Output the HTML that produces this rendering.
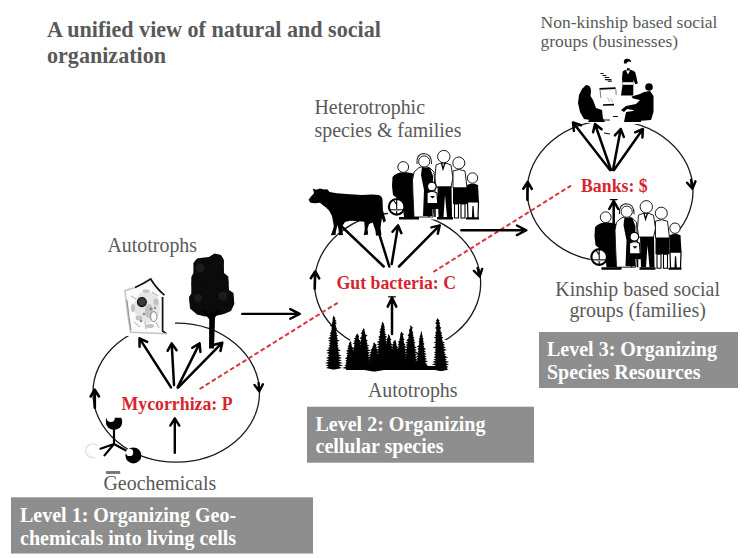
<!DOCTYPE html>
<html><head><meta charset="utf-8">
<style>
html,body{margin:0;padding:0;background:#fff;}
body{width:751px;height:558px;overflow:hidden;position:relative;}
svg{position:absolute;left:0;top:0;}
.t{font-family:"Liberation Serif",serif;fill:#595959;}
.b{font-weight:bold;}
.r{font-family:"Liberation Serif",serif;font-weight:bold;fill:#d6252c;font-size:17.8px;}
.w{font-family:"Liberation Serif",serif;font-weight:bold;fill:#fff;font-size:20px;}
.box{fill:#8e8e8e;}
.el{fill:none;stroke:#1a1a1a;stroke-width:1.3;}
.ar path{fill:none;stroke:#000;stroke-linecap:round;stroke-linejoin:round;}
.dash{stroke:#da3540;stroke-width:2;stroke-dasharray:4.6 2.6;fill:none;}
</style></head>
<body>
<svg width="751" height="558" viewBox="0 0 751 558">
<!-- title -->
<text class="t b" x="47" y="37" font-size="22.1">A unified view of natural and social</text>
<text class="t b" x="47" y="62.8" font-size="22.1">organization</text>

<!-- boxes -->
<rect class="box" x="11" y="497.3" width="302" height="56.2"/>
<rect class="box" x="307" y="406.7" width="227" height="56"/>
<rect class="box" x="539" y="332" width="199" height="56"/>
<text class="w" x="20" y="521.6">Level 1: Organizing Geo-</text>
<text class="w" x="20" y="544.8">chemicals into living cells</text>
<text class="w" x="315.5" y="431">Level 2: Organizing</text>
<text class="w" x="315.5" y="453.4">cellular species</text>
<text class="w" x="547" y="355.6">Level 3: Organizing</text>
<text class="w" x="547" y="379.3">Species Resources</text>

<!-- labels -->
<text class="t" x="540.5" y="28.1" font-size="17.5">Non-kinship based social</text>
<text class="t" x="540.5" y="47.1" font-size="17.5">groups (businesses)</text>
<text class="t" x="314.5" y="114" font-size="19.9">Heterotrophic</text>
<text class="t" x="314.5" y="137.4" font-size="19.9">species &amp; families</text>
<text class="t" x="107.5" y="252.2" font-size="19.9">Autotrophs</text>
<text class="t" x="368" y="396.6" font-size="19.9">Autotrophs</text>
<text class="t" x="103.5" y="489.5" font-size="19.9">Geochemicals</text>
<text class="t" x="637.6" y="296" font-size="19.9" text-anchor="middle">Kinship based social</text>
<text class="t" x="637.6" y="316.8" font-size="19.9" text-anchor="middle">groups (families)</text>

<!-- ellipses -->
<ellipse class="el" cx="176.2" cy="392.7" rx="83.3" ry="69.5"/>
<ellipse class="el" cx="397.6" cy="282.9" rx="83.1" ry="69.9"/>
<ellipse class="el" cx="610.1" cy="191" rx="82.9" ry="70.4"/>

<!-- dashed red -->
<line class="dash" x1="199.6" y1="389" x2="337.6" y2="302.8"/>
<line class="dash" x1="433.3" y1="272" x2="571" y2="185.6"/>

<path d="M350 340L452 340L452 369L350 369Z" fill="#fff"/>
<g fill="#000">
<path d="M333.7 315.5L334.4 316.9L335.5 318.4L334.7 319.3L336.5 320.9L335.0 321.8L336.9 323.3L335.2 324.3L336.3 325.8L335.5 326.8L337.2 328.3L335.7 329.3L336.4 330.8L336.0 331.8L337.1 333.3L336.2 334.2L338.2 335.7L336.4 336.7L337.8 338.2L336.6 339.2L339.7 340.7L336.9 341.7L338.3 343.2L337.1 344.2L338.6 345.7L337.3 346.6L338.9 348.2L337.5 349.1L341.0 350.6L337.7 351.6L339.8 353.1L337.9 354.1L341.6 355.6L338.1 356.6L342.2 358.1L338.2 359.0L341.8 360.6L338.4 361.5L342.8 363.0L338.6 364.0L343.1 365.5L338.8 366.5L341.9 368.0L334.9 369.6L332.5 369.6L326.0 368.0L328.6 366.5L325.8 365.5L328.8 364.0L325.0 363.0L329.0 361.5L326.1 360.6L329.2 359.0L325.8 358.1L329.3 356.6L327.7 355.6L329.5 354.1L326.3 353.1L329.7 351.6L326.1 350.6L329.9 349.1L327.9 348.2L330.1 346.6L328.6 345.7L330.3 344.2L328.9 343.2L330.5 341.7L328.1 340.7L330.8 339.2L327.9 338.2L331.0 336.7L329.5 335.7L331.2 334.2L329.7 333.3L331.4 331.8L331.1 330.8L331.7 329.3L331.6 328.3L331.9 326.8L329.9 325.8L332.2 324.3L332.0 323.3L332.4 321.8L332.6 320.9L332.7 319.3L332.7 318.4L333.0 316.9Z"/>
<path d="M350.5 341.0L351.3 342.3L351.2 343.8L351.7 344.7L351.7 346.2L352.1 347.1L353.6 348.6L352.5 349.6L354.4 351.0L352.8 352.0L354.1 353.4L353.2 354.4L355.1 355.9L353.5 356.8L355.6 358.3L353.8 359.2L355.2 360.7L354.1 361.6L355.6 363.1L354.4 364.0L358.0 365.5L354.7 366.4L358.3 367.9L351.7 369.5L349.3 369.5L342.2 367.9L346.3 366.4L344.4 365.5L346.6 364.0L345.4 363.1L346.9 361.6L345.3 360.7L347.2 359.2L344.9 358.3L347.5 356.8L346.6 355.9L347.8 354.4L346.1 353.4L348.2 352.0L345.9 351.0L348.5 349.6L347.2 348.6L348.9 347.1L347.5 346.2L349.3 344.7L348.7 343.8L349.7 342.3Z"/>
<path d="M357.3 333.5L358.2 334.8L359.1 336.3L358.7 337.3L358.7 338.8L359.1 339.7L361.5 341.2L359.5 342.1L361.7 343.6L359.8 344.6L362.7 346.0L360.2 347.0L361.9 348.5L360.5 349.4L363.5 350.9L360.9 351.8L364.0 353.3L361.2 354.3L364.8 355.8L361.5 356.7L365.5 358.2L361.8 359.1L364.6 360.6L362.1 361.6L366.4 363.0L362.4 364.0L366.9 365.5L362.7 366.4L366.0 367.9L358.5 369.5L356.1 369.5L348.3 367.9L351.9 366.4L348.3 365.5L352.2 364.0L349.4 363.0L352.5 361.6L348.7 360.6L352.8 359.1L349.1 358.2L353.1 356.7L351.4 355.8L353.4 354.3L350.3 353.3L353.7 351.8L351.8 350.9L354.1 349.4L352.0 348.5L354.4 347.0L353.9 346.0L354.8 344.6L352.8 343.6L355.1 342.1L353.5 341.2L355.5 339.7L353.8 338.8L355.9 337.3L355.4 336.3L356.4 334.8Z"/>
<path d="M363.7 328.0L364.5 329.4L364.5 330.9L364.9 331.8L365.1 333.3L365.3 334.3L367.7 335.8L365.7 336.8L366.1 338.3L366.0 339.2L367.8 340.7L366.3 341.7L367.6 343.2L366.6 344.2L369.5 345.7L366.9 346.6L369.1 348.1L367.2 349.1L370.7 350.6L367.5 351.6L370.2 353.1L367.8 354.0L369.8 355.6L368.1 356.5L372.1 358.0L368.3 359.0L372.2 360.5L368.6 361.5L371.8 363.0L368.8 363.9L373.2 365.4L369.1 366.4L372.7 367.9L364.9 369.5L362.5 369.5L354.1 367.9L358.3 366.4L354.2 365.4L358.6 363.9L354.5 363.0L358.8 361.5L356.1 360.5L359.1 359.0L356.8 358.0L359.3 356.5L357.5 355.6L359.6 354.0L356.1 353.1L359.9 351.6L356.7 350.6L360.2 349.1L358.1 348.1L360.5 346.6L358.9 345.7L360.8 344.2L359.0 343.2L361.1 341.7L360.8 340.7L361.4 339.2L359.5 338.3L361.7 336.8L361.3 335.8L362.1 334.3L360.5 333.3L362.5 331.8L361.8 330.9L362.9 329.4Z"/>
<path d="M374.2 342.3L375.2 343.7L376.9 345.2L375.8 346.1L376.9 347.6L376.3 348.6L378.4 350.1L376.8 351.1L378.2 352.6L377.2 353.6L378.6 355.1L377.6 356.0L381.2 357.5L378.1 358.5L381.1 360.0L378.5 361.0L381.1 362.5L378.8 363.4L381.6 365.0L379.2 365.9L383.6 367.4L379.6 368.4L384.0 369.9L375.4 371.5L373.0 371.5L364.7 369.9L368.8 368.4L366.3 367.4L369.2 365.9L365.4 365.0L369.6 363.4L366.9 362.5L369.9 361.0L368.7 360.0L370.3 358.5L368.0 357.5L370.8 356.0L368.8 355.1L371.2 353.6L369.7 352.6L371.6 351.1L370.5 350.1L372.1 348.6L372.5 347.6L372.6 346.1L373.5 345.2L373.2 343.7Z"/>
<path d="M382.5 321.5L383.2 322.9L384.3 324.4L383.6 325.4L385.1 327.0L383.9 327.9L385.5 329.5L384.2 330.5L385.5 332.0L384.5 333.0L386.4 334.5L384.8 335.5L387.5 337.1L385.0 338.1L387.1 339.6L385.3 340.6L387.4 342.1L385.6 343.1L388.1 344.6L385.8 345.6L388.9 347.2L386.0 348.2L389.2 349.7L386.3 350.7L389.3 352.2L386.5 353.2L390.1 354.8L386.7 355.8L390.5 357.3L387.0 358.3L390.5 359.8L387.2 360.8L391.5 362.3L387.4 363.3L390.9 364.9L387.6 365.9L391.9 367.4L383.7 369.0L381.3 369.0L373.1 367.4L377.4 365.9L374.2 364.9L377.6 363.3L375.7 362.3L377.8 360.8L375.8 359.8L378.0 358.3L375.0 357.3L378.3 355.8L376.2 354.8L378.5 353.2L375.7 352.2L378.7 350.7L376.8 349.7L379.0 348.2L376.8 347.2L379.2 345.6L376.7 344.6L379.4 343.1L376.6 342.1L379.7 340.6L378.4 339.6L380.0 338.1L378.1 337.1L380.2 335.5L379.6 334.5L380.5 333.0L379.0 332.0L380.8 330.5L379.7 329.5L381.1 327.9L380.9 327.0L381.4 325.4L381.8 324.4L381.8 322.9Z"/>
<path d="M388.7 334.0L389.5 335.4L390.2 336.9L390.0 337.9L391.5 339.5L390.4 340.5L390.9 342.0L390.7 343.0L392.4 344.6L391.1 345.6L392.6 347.1L391.4 348.1L394.0 349.6L391.7 350.6L394.4 352.2L392.0 353.2L393.6 354.7L392.4 355.7L395.3 357.2L392.6 358.2L395.9 359.8L392.9 360.8L394.9 362.3L393.2 363.3L395.8 364.9L393.5 365.9L396.0 367.4L389.9 369.0L387.5 369.0L379.5 367.4L383.9 365.9L380.9 364.9L384.2 363.3L381.8 362.3L384.5 360.8L381.3 359.8L384.8 358.2L382.3 357.2L385.0 355.7L381.9 354.7L385.4 353.2L383.8 352.2L385.7 350.6L384.3 349.6L386.0 348.1L385.0 347.1L386.3 345.6L385.8 344.6L386.7 343.0L386.3 342.0L387.0 340.5L386.9 339.5L387.4 337.9L388.2 336.9L387.9 335.4Z"/>
<path d="M395.0 339.7L395.9 341.1L395.9 342.6L396.4 343.5L396.4 345.1L396.9 346.0L398.0 347.5L397.3 348.5L399.2 350.0L397.7 351.0L400.5 352.5L398.1 353.5L400.0 355.0L398.4 356.0L400.7 357.5L398.8 358.4L402.2 360.0L399.1 360.9L401.0 362.4L399.5 363.4L401.7 364.9L399.8 365.9L402.8 367.4L396.2 369.0L393.8 369.0L387.0 367.4L390.2 365.9L387.7 364.9L390.5 363.4L387.7 362.4L390.9 360.9L387.7 360.0L391.2 358.4L388.6 357.5L391.6 356.0L388.6 355.0L391.9 353.5L389.8 352.5L392.3 351.0L391.3 350.0L392.7 348.5L391.7 347.5L393.1 346.0L391.8 345.1L393.6 343.5L392.9 342.6L394.1 341.1Z"/>
<path d="M401.5 331.5L402.3 332.9L404.0 334.4L402.7 335.4L403.5 337.0L403.1 338.0L404.6 339.5L403.4 340.5L404.0 342.0L403.8 343.0L405.6 344.6L404.1 345.6L407.0 347.1L404.4 348.1L406.1 349.6L404.7 350.6L405.8 352.2L405.0 353.2L407.6 354.7L405.2 355.7L407.1 357.3L405.5 358.3L409.2 359.8L405.8 360.8L408.6 362.3L406.0 363.3L408.7 364.9L406.3 365.9L409.4 367.4L402.7 369.0L400.3 369.0L394.4 367.4L396.7 365.9L393.2 364.9L397.0 363.3L393.9 362.3L397.2 360.8L395.0 359.8L397.5 358.3L395.4 357.3L397.8 355.7L394.7 354.7L398.0 353.2L397.0 352.2L398.3 350.6L396.8 349.6L398.6 348.1L398.1 347.1L398.9 345.6L397.8 344.6L399.2 343.0L397.8 342.0L399.6 340.5L399.4 339.5L399.9 338.0L400.1 337.0L400.3 335.4L400.2 334.4L400.7 332.9Z"/>
<path d="M410.8 325.0L411.5 326.4L413.1 327.9L411.9 328.8L412.3 330.3L412.3 331.3L413.4 332.8L412.6 333.8L413.5 335.3L412.9 336.2L414.4 337.8L413.2 338.7L414.9 340.2L413.5 341.2L415.7 342.7L413.7 343.7L415.3 345.2L414.0 346.1L417.0 347.6L414.2 348.6L416.8 350.1L414.5 351.1L418.1 352.6L414.7 353.5L416.9 355.0L415.0 356.0L417.1 357.5L415.2 358.5L417.8 360.0L415.4 360.9L418.6 362.5L415.7 363.4L419.3 364.9L415.9 365.9L418.6 367.4L412.0 369.0L409.6 369.0L402.7 367.4L405.7 365.9L402.9 364.9L405.9 363.4L403.2 362.5L406.2 360.9L404.4 360.0L406.4 358.5L403.2 357.5L406.6 356.0L404.7 355.0L406.9 353.5L404.0 352.6L407.1 351.1L403.8 350.1L407.4 348.6L406.0 347.6L407.6 346.1L405.6 345.2L407.9 343.7L405.4 342.7L408.1 341.2L406.2 340.2L408.4 338.7L408.3 337.8L408.7 336.2L407.5 335.3L409.0 333.8L409.3 332.8L409.3 331.3L409.0 330.3L409.7 328.8L410.5 327.9L410.1 326.4Z"/>
<path d="M421.3 331.0L421.9 332.4L422.0 333.9L422.2 334.9L422.7 336.4L422.5 337.4L423.6 338.9L422.8 339.9L423.7 341.4L423.1 342.4L424.6 343.9L423.3 344.9L424.3 346.4L423.6 347.4L426.2 348.9L423.8 349.9L425.7 351.4L424.0 352.4L426.6 353.9L424.2 354.9L426.5 356.4L424.5 357.4L427.0 358.9L424.7 359.9L428.0 361.4L424.9 362.4L427.2 363.9L425.1 364.9L427.1 366.4L422.5 368.0L420.1 368.0L415.7 366.4L417.5 364.9L414.9 363.9L417.7 362.4L415.5 361.4L417.9 359.9L416.4 358.9L418.1 357.4L416.1 356.4L418.4 354.9L415.5 353.9L418.6 352.4L417.9 351.4L418.8 349.9L417.3 348.9L419.0 347.4L416.7 346.4L419.3 344.9L418.8 343.9L419.5 342.4L418.5 341.4L419.8 339.9L418.6 338.9L420.1 337.4L419.6 336.4L420.4 334.9L420.7 333.9L420.7 332.4Z"/>
<path d="M437.5 318.0L438.3 319.3L439.7 320.8L438.8 321.8L440.4 323.3L439.3 324.2L440.1 325.7L439.7 326.6L441.5 328.1L440.1 329.1L440.7 330.5L440.5 331.5L442.2 333.0L440.9 333.9L442.2 335.4L441.3 336.3L443.4 337.8L441.7 338.8L442.7 340.3L442.1 341.2L445.0 342.7L442.5 343.6L445.1 345.1L442.9 346.1L445.8 347.5L443.2 348.5L446.9 350.0L443.6 350.9L445.2 352.4L444.0 353.3L446.1 354.8L444.3 355.8L448.3 357.3L444.7 358.2L446.9 359.7L445.0 360.6L449.2 362.1L445.4 363.1L449.0 364.5L445.8 365.5L448.4 367.0L446.1 367.9L448.6 369.4L442.2 371.0L439.8 371.0L432.6 369.4L435.9 367.9L432.3 367.0L435.9 365.5L431.8 364.5L435.9 363.1L432.3 362.1L436.0 360.6L433.4 359.7L436.0 358.2L433.4 357.3L436.0 355.8L434.0 354.8L436.0 353.3L433.9 352.4L436.1 350.9L434.7 350.0L436.1 348.5L432.6 347.5L436.1 346.1L434.6 345.1L436.2 343.6L433.5 342.7L436.2 341.2L435.0 340.3L436.3 338.8L433.7 337.8L436.3 336.3L434.7 335.4L436.4 333.9L434.9 333.0L436.5 331.5L436.1 330.5L436.5 329.1L434.9 328.1L436.6 326.6L436.2 325.7L436.7 324.2L435.0 323.3L436.8 321.8L435.9 320.8L437.0 319.3Z"/>
<path d="M346 367L352 362L424 362L428 366L446 366L447 370L346 370Z"/>
</g>
<path d="M209 257L214.7 253.4L221 255L223.8 260L224 273L228.3 276.5L229 290L233.5 293L234.3 304L231 311L224 314L215 316L205 316.6L197 314.5L190 308.5L189 297L191.3 293.5L191.3 277L193.4 273L193.4 263L197 258.5L204 257.5Z" fill="#0b0b0b"/>
<g fill="#0b0b0b"><circle cx="216" cy="262" r="7.8"/><circle cx="201" cy="265.5" r="7"/><circle cx="198.5" cy="284.5" r="7"/><circle cx="197.5" cy="301" r="8"/><circle cx="204.5" cy="308" r="7.5"/><circle cx="222" cy="282.5" r="6.5"/><circle cx="226" cy="300" r="8"/><circle cx="219" cy="307.5" r="7"/></g>
<g fill="#1c1c1c"><circle cx="200" cy="268" r="4.5"/><circle cx="223" cy="296" r="4.5"/><circle cx="198" cy="298" r="4"/></g>
<path d="M209.3 313L209 348.5L214 348.5L215.2 313Z" fill="#000"/>
<path d="M211.5 320L204 311M212.5 319L218 311" stroke="#000" stroke-width="2.6" fill="none"/>
<rect x="123" y="276" width="52" height="60" fill="#fff"/>
<path d="M125 290.8Q138 287 150.7 279Q156 288 164.5 295.2L162.6 297L162.6 331L166.4 333.8Q148 333 130.6 332.3Q127 312 125 290.8Z" fill="#fbfbfb"/>
<g fill="#e6e6e6"><ellipse cx="147" cy="307" rx="13" ry="16"/></g>
<g fill="#c2c2c2"><ellipse cx="149" cy="311" rx="4" ry="7"/><ellipse cx="139" cy="318" rx="3.5" ry="2.5"/><ellipse cx="156" cy="302" rx="2.5" ry="3.5"/><ellipse cx="146" cy="291" rx="3.5" ry="1.8"/><ellipse cx="133" cy="308" rx="2" ry="4"/><ellipse cx="150" cy="326" rx="4" ry="2"/></g>
<path d="M131 296L136 299M152 292L158 296M134 322L140 327M156 322L159 328M145 322L146 329" stroke="#999" stroke-width="0.8" fill="none"/>
<g fill="#888"><circle cx="151" cy="309" r="1.6"/><circle cx="144" cy="314" r="1.3"/><circle cx="155" cy="308" r="1.2"/><circle cx="141" cy="321" r="1.2"/></g>
<path d="M135 287.5Q143 284 150.7 279Q156 288 164.5 295.2M162.6 297L162.6 331L166.4 333.8" stroke="#111" stroke-width="1.7" fill="none"/>
<path d="M166.4 333.8Q148 333 130.6 332.3Q127 312 125 290.8Q130 289 135 287.5" stroke="#c4c4c4" stroke-width="1.6" fill="none"/>
<path d="M127 300Q129 318 131 330" stroke="#777" stroke-width="0.8" fill="none"/>
<circle cx="141.9" cy="302.1" r="4.4" fill="#3a3a3a" stroke="#111" stroke-width="1.3"/>
<ellipse cx="153.8" cy="316.6" rx="3.2" ry="5" fill="#fff" stroke="#777" stroke-width="0.9"/>
<g stroke="#000" stroke-width="2.2" fill="none" stroke-linecap="round"><path d="M114 430L114 444L100.5 448.7M114 444L104.5 455.4M114 444L128.7 452"/></g>
<path d="M106.8 417.8L121.2 417.8A8.2 8.2 0 1 1 106.8 417.8Z" fill="#000"/>
<circle cx="110.8" cy="418" r="4" fill="#fff"/>
<circle cx="133.4" cy="455.4" r="8" fill="#000"/>
<circle cx="129.6" cy="452.4" r="3.6" fill="#fff"/>
<path d="M97 445.5A6.8 6.8 0 1 0 95 457" stroke="#ddd" stroke-width="1.3" fill="none"/>
<rect x="105.8" y="471" width="14.5" height="3" rx="1" fill="#7a7a7a"/>
<path d="M312.8 188.4L316 189.8L320 188.6L324 189.6L327.2 189.3L329.6 192L336.8 193.2L350 194.2L361.9 195L372 194.6L378.7 195Q382 196 382.5 199.5L382.9 210L384.5 216L385.9 220.7L383.5 222.8L382 218L381.3 222L380.5 228L381.5 234.8L376 235.7L375.5 231L373.8 226L372.7 222.5L369 224L367.5 229L368.2 234.5L363.8 235.2L364.8 229L364.3 221.8L357 221L350 220.7L345 222L342.7 225.5L342.3 230L343 235L339 235.2L338.5 229L337.5 225L336 231L335.5 235L330.8 235.3L333 229.5L333.8 226L332 216L329 210.5L326 207.6L322 204.5L320 202.8L315 203.2L310.4 202.8L308.6 199.8L311 196.5L314 193.2L313.4 190.5Z" fill="#000"/>
<g>
<path d="M392 172L403 166L413 165L418 156L437 150L452 156L468 168L478 180L480 200L479.6 219.5L388 219.5L387.9 200Z" fill="#fff"/>
<path d="M392.5 177Q396 172.5 404 172Q413 172.5 418.5 176L421 184L418 186L414 184.5L414 195L418.5 199L419.5 217L404 217L403 207L398 199L393 195L392 186Z" fill="#000"/>
<circle cx="396.7" cy="206.8" r="7.8" fill="#fff" stroke="#000" stroke-width="2.2"/>
<path d="M396.7 199.5L396.7 214M389.5 209.5L404 209.5M397 205L393 199.5" stroke="#000" stroke-width="1.1" fill="none"/>
<path d="M390 209.5Q397 213 403.5 209.5Z" fill="#999"/>
<circle cx="403.2" cy="167" r="5.4" fill="#fff" stroke="#111" stroke-width="0.95"/>
<path d="M414 172Q418 167 424 166Q431 167 434 172L435 190L433 217L414 217L413 195L412.5 180Z" fill="#fff" stroke="#111" stroke-width="0.95"/>
<path d="M422 167L430 168L433 176L432.5 216L423 216L424 190L421 175Z" fill="#000"/>
<circle cx="424.2" cy="161.5" r="5.6" fill="#fff" stroke="#111" stroke-width="0.95"/>
<path d="M417 164Q416 154 424 153.5Q432 154 431.5 164" fill="none" stroke="#222" stroke-width="1.1"/>
<path d="M436 165Q443 161 451 165L453 178L451 187L436 187L435 178Z" fill="#fff" stroke="#111" stroke-width="0.95"/>
<path d="M437.5 186.5L451.5 186.5L452 217L447 217L445 195L443.5 217L438.5 217Z" fill="#000"/>
<path d="M441.5 163L443 169L445 163" stroke="#000" stroke-width="1.3" fill="none"/>
<circle cx="443.8" cy="156.6" r="6.2" fill="#fff" stroke="#111" stroke-width="0.95"/>
<path d="M453 171Q459 168 465 171L467 188L453 188Z" fill="#fff" stroke="#111" stroke-width="0.95"/>
<path d="M453 187.5L467 187.5L467 204L453 204Z" fill="#000"/>
<path d="M454.5 204L458.5 204L458.5 218L454.5 218ZM461 204L465 204L465 218L461 218Z" fill="#fff" stroke="#000" stroke-width="1.1"/>
<circle cx="458.8" cy="163" r="6" fill="#fff" stroke="#111" stroke-width="0.95"/>
<path d="M427 193Q432 190 437 193L438 207L427 207Z" fill="#fff" stroke="#000" stroke-width="1.2"/>
<path d="M427 203L438 203L438.5 209L426.5 209Z" fill="#000"/>
<path d="M429 209L429 217M435 209L435 217" stroke="#000" stroke-width="1.6"/>
<path d="M430 196L432.5 198.5L435 196Z" fill="#000"/>
<circle cx="431.8" cy="186.5" r="4.3" fill="#fff" stroke="#000" stroke-width="1.2"/>
<path d="M467 185Q472.5 182 478 185L479 202L467 202Z" fill="#000"/>
<path d="M467.5 202L478.5 202L478 218L473.8 218L473 206L472.5 218L468 218Z" fill="#fff" stroke="#000" stroke-width="1.2"/>
<circle cx="472.5" cy="178" r="5.2" fill="#fff" stroke="#111" stroke-width="0.95"/>
<path d="M399 217L419 217L419 219.5L399 219.5ZM437 217L453 217L453 219.5L437 219.5ZM466 217.5L479 217.5L479 219.5L466 219.5Z" fill="#000"/>
</g>
<g transform="translate(202.5 50.2)">
<path d="M392 172L403 166L413 165L418 156L437 150L452 156L468 168L478 180L480 200L479.6 219.5L388 219.5L387.9 200Z" fill="#fff"/>
<path d="M392.5 177Q396 172.5 404 172Q413 172.5 418.5 176L421 184L418 186L414 184.5L414 195L418.5 199L419.5 217L404 217L403 207L398 199L393 195L392 186Z" fill="#000"/>
<circle cx="396.7" cy="206.8" r="7.8" fill="#fff" stroke="#000" stroke-width="2.2"/>
<path d="M396.7 199.5L396.7 214M389.5 209.5L404 209.5M397 205L393 199.5" stroke="#000" stroke-width="1.1" fill="none"/>
<path d="M390 209.5Q397 213 403.5 209.5Z" fill="#999"/>
<circle cx="403.2" cy="167" r="5.4" fill="#fff" stroke="#111" stroke-width="0.95"/>
<path d="M414 172Q418 167 424 166Q431 167 434 172L435 190L433 217L414 217L413 195L412.5 180Z" fill="#fff" stroke="#111" stroke-width="0.95"/>
<path d="M422 167L430 168L433 176L432.5 216L423 216L424 190L421 175Z" fill="#000"/>
<circle cx="424.2" cy="161.5" r="5.6" fill="#fff" stroke="#111" stroke-width="0.95"/>
<path d="M417 164Q416 154 424 153.5Q432 154 431.5 164" fill="none" stroke="#222" stroke-width="1.1"/>
<path d="M436 165Q443 161 451 165L453 178L451 187L436 187L435 178Z" fill="#fff" stroke="#111" stroke-width="0.95"/>
<path d="M437.5 186.5L451.5 186.5L452 217L447 217L445 195L443.5 217L438.5 217Z" fill="#000"/>
<path d="M441.5 163L443 169L445 163" stroke="#000" stroke-width="1.3" fill="none"/>
<circle cx="443.8" cy="156.6" r="6.2" fill="#fff" stroke="#111" stroke-width="0.95"/>
<path d="M453 171Q459 168 465 171L467 188L453 188Z" fill="#fff" stroke="#111" stroke-width="0.95"/>
<path d="M453 187.5L467 187.5L467 204L453 204Z" fill="#000"/>
<path d="M454.5 204L458.5 204L458.5 218L454.5 218ZM461 204L465 204L465 218L461 218Z" fill="#fff" stroke="#000" stroke-width="1.1"/>
<circle cx="458.8" cy="163" r="6" fill="#fff" stroke="#111" stroke-width="0.95"/>
<path d="M427 193Q432 190 437 193L438 207L427 207Z" fill="#fff" stroke="#000" stroke-width="1.2"/>
<path d="M427 203L438 203L438.5 209L426.5 209Z" fill="#000"/>
<path d="M429 209L429 217M435 209L435 217" stroke="#000" stroke-width="1.6"/>
<path d="M430 196L432.5 198.5L435 196Z" fill="#000"/>
<circle cx="431.8" cy="186.5" r="4.3" fill="#fff" stroke="#000" stroke-width="1.2"/>
<path d="M467 185Q472.5 182 478 185L479 202L467 202Z" fill="#000"/>
<path d="M467.5 202L478.5 202L478 218L473.8 218L473 206L472.5 218L468 218Z" fill="#fff" stroke="#000" stroke-width="1.2"/>
<circle cx="472.5" cy="178" r="5.2" fill="#fff" stroke="#111" stroke-width="0.95"/>
<path d="M399 217L419 217L419 219.5L399 219.5ZM437 217L453 217L453 219.5L437 219.5ZM466 217.5L479 217.5L479 219.5L466 219.5Z" fill="#000"/>
</g>
<path d="M578 122L576 90L590 82L598 70L618 68L622 58L634 58L640 80L652 82L656 100L654 124L640 124L630 124L620 126L603 124Z" fill="#fff"/>
<path d="M600.5 73.5L603.5 73.5M602.5 75.5L606.5 75.5M604.6 77.5L609.3 77.5M605 79.6L611.5 79.6M607.7 81.3L612 81.3" stroke="#111" stroke-width="1.1"/>
<path d="M599.5 88.8L615.6 88.2" stroke="#000" stroke-width="1.7"/>
<path d="M603 105L614 104.6" stroke="#000" stroke-width="1.7"/>
<path d="M600.1 89.5L600.8 98M615.8 89L616.2 95" stroke="#888" stroke-width="1.1" fill="none"/>
<path d="M607.5 97.5L610 102M610.5 98.5L613 102" stroke="#aaa" stroke-width="0.9" fill="none"/>
<path d="M624 63.5Q623 59 627 58.8Q631 58.6 631.2 62.5L629.5 61.5Q627.5 61 626.5 63.5Z" fill="#000"/>
<path d="M626.8 68.2L629.8 68.2L629.6 70L627 70Z" fill="#000"/>
<path d="M622.7 71.5Q624 70 627 69.8L630 69.8Q634.5 70.5 635.5 73L637.8 83.5L635.5 84.2L633.3 80L633.3 95.5L621 95.5L622.5 85L622 78Z" fill="#000"/>
<path d="M626 70.5L628 74.5L630 70.5Z" fill="#fff"/>
<path d="M622.6 82.2L633.2 82.2L633.2 84.8L622.6 84.8Z" fill="#fff"/>
<path d="M586 85Q591 85 591 91L590.5 96L593 100L596 108L602 110L603 119L596 120L590 120L584 119L580 112L578 103L579 95L582 89Z" fill="#000"/>
<path d="M590 118L603 118L605 122L588 122Z" fill="#000"/>
<circle cx="649" cy="87" r="3.8" fill="#000"/>
<path d="M644 92L650 91L653.5 96L653.5 112L651 120L638 121L636 114L633 110L627 109L624 112L621 110L626 106L636 104L640 100L633 98.5L631.5 96.5L640 94Z" fill="#000"/>
<path d="M626 112L640 110L641 122L624 122Z" fill="#000"/>
<path d="M603 120L610 120M613 116.5L618 116.5M604 133L610 134" stroke="#111" stroke-width="1.2" fill="none"/>

<g class="ar">
<path d="M171.0 387.4L139.5 338.3M139.6 346.8L139.5 338.3L147.2 341.9" stroke-width="2.5"/>
<path d="M174.0 385.0L171.7 343.4M167.6 350.8L171.7 343.4L176.6 350.3" stroke-width="2.5"/>
<path d="M177.6 387.4L199.6 343.4M192.3 347.8L199.6 343.4L200.4 351.9" stroke-width="2.5"/>
<path d="M178.3 387.4L222.3 342.7M214.0 344.7L222.3 342.7L220.5 351.0" stroke-width="2.5"/>
<path d="M174.8 452.8L174.8 418.4M170.3 425.6L174.8 418.4L179.3 425.6" stroke-width="2.4"/>
<path d="M94.8 407.7L94.8 389.7M90.6 396.5L94.8 389.7L99.0 396.5" stroke-width="2.6"/>
<path d="M258.6 383.0L259.2 391.4M262.9 384.3L259.2 391.4L254.5 384.9" stroke-width="2.4"/>
<path d="M314.7 288.7L315.2 271.5M310.8 278.2L315.2 271.5L319.2 278.4" stroke-width="2.6"/>
<path d="M477.6 268.0L479.6 276.5M482.2 268.9L479.6 276.5L473.9 270.9" stroke-width="2.4"/>
<path d="M527.4 199.8L527.7 182.0M523.3 188.7L527.7 182.0L531.8 188.9" stroke-width="2.6"/>
<path d="M691.0 180.0L692.4 188.7M695.5 181.3L692.4 188.7L687.1 182.7" stroke-width="2.4"/>
<path d="M242.2 313.9L299.7 313.9M290.3 309.1L299.7 313.9L290.3 318.7" stroke-width="2.4"/>
<path d="M461.3 230.3L526.3 230.3M516.9 225.5L526.3 230.3L516.9 235.1" stroke-width="2.4"/>
<path d="M383.7 266.5L342.2 227.0" stroke-width="2.5"/>
<path d="M389.3 266.5L377.3 227.8" stroke-width="2.5"/>
<path d="M391.7 264.0L398.1 225.4M392.5 231.8L398.1 225.4L401.4 233.2" stroke-width="2.5"/>
<path d="M399.0 266.5L439.7 225.4M431.4 227.4L439.7 225.4L437.8 233.7" stroke-width="2.5"/>
<path d="M392.0 333.9L392.0 297.8M387.7 306.6L392.0 297.8L396.3 306.6" stroke-width="2.5"/>
<path d="M388.6 296.8L395.4 296.8" stroke-width="1.2"/>
<path d="M610.0 170.0L573.0 122.4M573.9 130.9L573.0 122.4L581.0 125.3" stroke-width="2.5"/>
<path d="M611.0 170.0L595.0 124.0M593.1 132.3L595.0 124.0L601.6 129.3" stroke-width="2.5"/>
<path d="M613.0 170.0L620.7 129.0M614.9 135.3L620.7 129.0L623.8 136.9" stroke-width="2.5"/>
<path d="M614.0 170.0L642.9 129.0M635.1 132.3L642.9 129.0L642.4 137.5" stroke-width="2.5"/>
<path d="M613.7 223.3L613.7 200.9M609.2 209.0L613.7 200.9L618.2 209.0" stroke-width="2.5"/>
<path d="M610.3 199.6L617.1 199.6" stroke-width="1.2"/>
</g>

<!-- red labels -->
<text class="r" x="121.5" y="410.1">Mycorrhiza: P</text>
<text class="r" x="336.5" y="288.9">Gut bacteria: C</text>
<text class="r" x="581" y="191.8">Banks: $</text>

</svg>
</body></html>
